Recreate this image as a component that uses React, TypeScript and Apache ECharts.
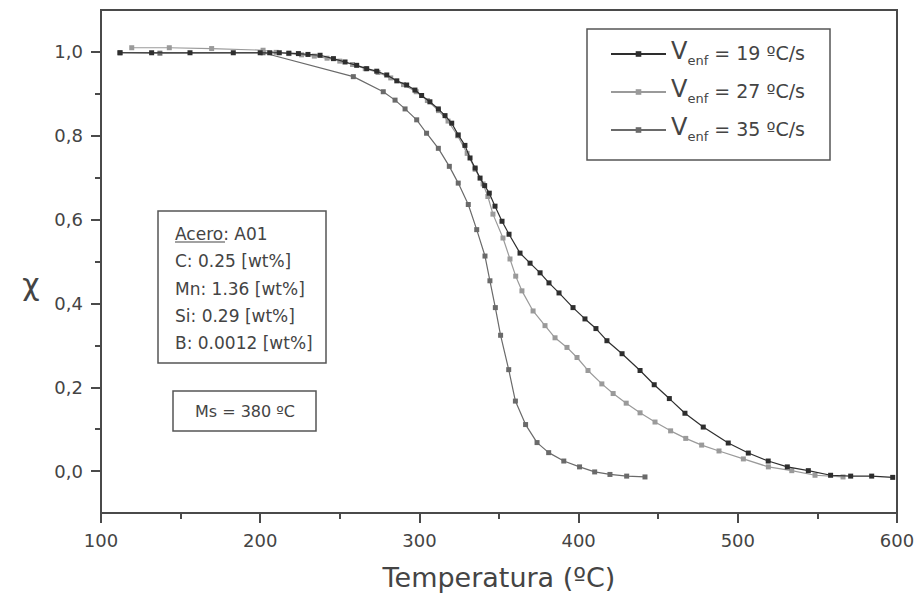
import React, { useEffect, useRef } from "react";
import * as echarts from "echarts";

const coolingRates = [19, 27, 35];

const temps19 = [111.9, 131.8, 155.9, 183.1, 200, 206, 212, 218, 224, 230, 237.6, 246.0, 253.3, 260.6, 266.9, 273.2, 279.5, 285.8, 292.0, 297.2, 301.4, 306.6, 311.9, 316.1, 320.3, 324.4, 328.6, 331.8, 335.0, 338.1, 341.0, 343.9, 347.5, 351.9, 356.3, 363.2, 369.5, 375.8, 381.4, 387.7, 396.5, 404.0, 410.9, 417.8, 427.3, 438.6, 447.5, 457.0, 466.8, 478.3, 494.0, 506.6, 519.1, 531.1, 544.3, 558.3, 570.9, 584.1, 597.3];
const chi19 = [0.998, 0.998, 0.998, 0.998, 0.998, 0.998, 0.998, 0.997, 0.996, 0.994, 0.992, 0.984, 0.976, 0.968, 0.960, 0.954, 0.945, 0.931, 0.921, 0.909, 0.896, 0.881, 0.864, 0.848, 0.830, 0.802, 0.777, 0.747, 0.723, 0.699, 0.681, 0.663, 0.632, 0.596, 0.565, 0.520, 0.496, 0.473, 0.449, 0.425, 0.390, 0.363, 0.340, 0.311, 0.280, 0.240, 0.206, 0.173, 0.138, 0.105, 0.067, 0.043, 0.024, 0.010, 0.001, -0.010, -0.012, -0.012, -0.015];

const temps27 = [119.3, 142.9, 169.5, 201.8, 210, 218, 226, 234, 242, 250, 258, 266, 274, 282, 290, 298, 305, 312, 318, 324, 330, 335, 340, 343, 346.2, 352.5, 356.9, 360.5, 364.4, 371.4, 378.9, 385.2, 392.7, 399.0, 405.9, 414.6, 421.7, 429.9, 438.6, 448.0, 457.8, 467.3, 477.3, 488.2, 503.5, 519.2, 533.9, 548.5, 566.1];
const chi27 = [1.010, 1.010, 1.008, 1.004, 0.999, 0.996, 0.993, 0.990, 0.985, 0.978, 0.970, 0.960, 0.951, 0.938, 0.922, 0.905, 0.884, 0.860, 0.835, 0.800, 0.758, 0.720, 0.685, 0.655, 0.613, 0.556, 0.506, 0.465, 0.430, 0.382, 0.347, 0.318, 0.295, 0.271, 0.240, 0.208, 0.185, 0.162, 0.139, 0.117, 0.096, 0.078, 0.062, 0.048, 0.029, 0.010, 0.001, -0.010, -0.014];

const temps35 = [112, 137, 201.8, 258.5, 277.3, 284.7, 291.0, 298.3, 304.5, 311.9, 318.8, 324.4, 330.7, 336.0, 341.2, 344.3, 347.7, 351.0, 356.1, 360.3, 366.7, 373.9, 381.2, 390.7, 400.6, 410.1, 419.7, 430.2, 441.7];
const chi35 = [0.998, 0.997, 0.998, 0.941, 0.905, 0.885, 0.864, 0.838, 0.806, 0.770, 0.727, 0.687, 0.636, 0.576, 0.513, 0.454, 0.390, 0.324, 0.242, 0.167, 0.111, 0.068, 0.044, 0.024, 0.010, -0.002, -0.008, -0.012, -0.014];

const xMajorTicks = [100, 200, 300, 400, 500, 600];
const xMinorTicks = [150, 250, 350, 450, 550];
const yMajorTicks = [0, 0.2, 0.4, 0.6, 0.8, 1.0];
const yMinorTicks = [0.1, 0.3, 0.5, 0.7, 0.9];

const steelLine = "Acero: A01";
const compositionLines = ["C: 0.25 [wt%]", "Mn: 1.36 [wt%]", "Si: 0.29 [wt%]", "B: 0.0012 [wt%]"];
const msText = "Ms = 380 ºC";
const xTitle = "Temperatura (ºC)";
const yTitle = "χ";

const seriesColors = ["#2e2e2e", "#9a9a9a", "#6a6a6a"];
const FONT = "DejaVu Sans";
const TXT = "#444";
const AX = "#4a4a4a";

export default function App() {
  const ref = useRef<HTMLDivElement>(null);
  useEffect(() => {
    if (!ref.current) return;
    const chart = echarts.init(ref.current, null, { renderer: "svg" });
    const seriesData = [
      temps19.map((t, i) => [t, chi19[i]]),
      temps27.map((t, i) => [t, chi27[i]]),
      temps35.map((t, i) => [t, chi35[i]]),
    ];
    const names = coolingRates.map((r) => `Venf = ${r} ºC/s`);
    const boxLines = [steelLine, ...compositionLines];
    const boxY = [234, 261.3, 288.6, 315.9, 343.2];
    const graphic: any[] = [
      { type: "rect", shape: { x: 587, y: 29, width: 243, height: 131 }, style: { fill: "none", stroke: "#555", lineWidth: 1.5 }, z: 1 },
      { type: "rect", shape: { x: 158, y: 211, width: 168, height: 152 }, style: { fill: "none", stroke: "#555", lineWidth: 1.5 }, z: 1 },
      { type: "rect", shape: { x: 173, y: 391, width: 143, height: 40 }, style: { fill: "none", stroke: "#555", lineWidth: 1.5 }, z: 1 },
      { type: "line", shape: { x1: 175, y1: 242, x2: 225, y2: 242 }, style: { stroke: "#444", lineWidth: 1.2 }, z: 1 },
      ...boxLines.map((t, i) => ({
        type: "text", x: 175, y: boxY[i], z: 1,
        style: { text: t, font: `17px '${FONT}'`, fill: TXT, verticalAlign: "middle", align: "left" },
      })),
      { type: "text", x: 245, y: 411, z: 1, style: { text: msText, font: `16px '${FONT}'`, fill: TXT, align: "center", verticalAlign: "middle" } },
      { type: "text", x: 31, y: 284, z: 1, style: { text: yTitle, font: `30px '${FONT}'`, fill: TXT, align: "center", verticalAlign: "middle" } },
    ];
    const tickStyle = { color: AX, width: 2 };
    chart.setOption({
      animation: false,
      backgroundColor: "#ffffff",
      grid: { left: 101, right: 21, top: 10, bottom: 93, show: true, borderColor: AX, borderWidth: 2, backgroundColor: "transparent" },
      legend: {
        orient: "vertical", left: 610, top: 39, padding: 0, itemGap: 10, itemWidth: 55, itemHeight: 7,
        data: names,
        formatter: (name: string) => {
          const m = name.match(/\d+/);
          return `{v|V}{s|enf}{t| = ${m ? m[0] : ""} ºC/s}`;
        },
        textStyle: {
          color: TXT, fontFamily: FONT,
          rich: {
            v: { fontSize: 24, lineHeight: 26, padding: [0, 0, 4, 0], verticalAlign: "bottom", fontFamily: FONT, color: TXT },
            s: { fontSize: 13, lineHeight: 13, verticalAlign: "bottom", fontFamily: FONT, color: TXT },
            t: { fontSize: 19, lineHeight: 22, padding: [0, 0, 5, 0], verticalAlign: "bottom", fontFamily: FONT, color: TXT },
          },
        },
      },
      xAxis: [
        {
          type: "value", min: 100, max: 600, position: "bottom",
          name: xTitle, nameLocation: "middle", nameGap: 51,
          nameTextStyle: { fontSize: 27, fontFamily: FONT, color: TXT },
          axisLine: { show: true, onZero: false, lineStyle: tickStyle },
          axisTick: { show: true, inside: false, length: 10, customValues: xMajorTicks, lineStyle: tickStyle },
          axisLabel: { fontSize: 18, fontFamily: FONT, color: TXT, margin: 18, customValues: xMajorTicks },
          splitLine: { show: false },
        },
        {
          type: "value", min: 100, max: 600, position: "bottom",
          axisLine: { show: false, onZero: false },
          axisTick: { show: true, inside: false, length: 6, customValues: xMinorTicks, lineStyle: tickStyle },
          axisLabel: { show: false },
          splitLine: { show: false },
        },
      ],
      yAxis: [
        {
          type: "value", min: -0.1, max: 1.1,
          axisLine: { show: true, onZero: false, lineStyle: tickStyle },
          axisTick: { show: true, inside: false, length: 10, customValues: yMajorTicks, lineStyle: tickStyle },
          axisLabel: {
            fontSize: 18, fontFamily: FONT, color: TXT, margin: 18, customValues: yMajorTicks,
            formatter: (v: number) => v.toFixed(1).replace(".", ","),
          },
          splitLine: { show: false },
        },
        {
          type: "value", min: -0.1, max: 1.1, position: "left",
          axisLine: { show: false, onZero: false },
          axisTick: { show: true, inside: false, length: 6, customValues: yMinorTicks, lineStyle: tickStyle },
          axisLabel: { show: false },
          splitLine: { show: false },
        },
      ],
      series: names.map((n, i) => ({
        type: "line", name: n, data: seriesData[i], xAxisIndex: 0, yAxisIndex: 0,
        symbol: "rect", symbolSize: 5, showSymbol: true,
        lineStyle: { color: seriesColors[i], width: 1.2 },
        itemStyle: { color: seriesColors[i] },
        z: 10 - i,
      })),
      graphic,
    });
    return () => chart.dispose();
  }, []);
  return <div ref={ref} style={{ position: "fixed", left: 0, top: 0, width: 918, height: 606 }} />;
}
